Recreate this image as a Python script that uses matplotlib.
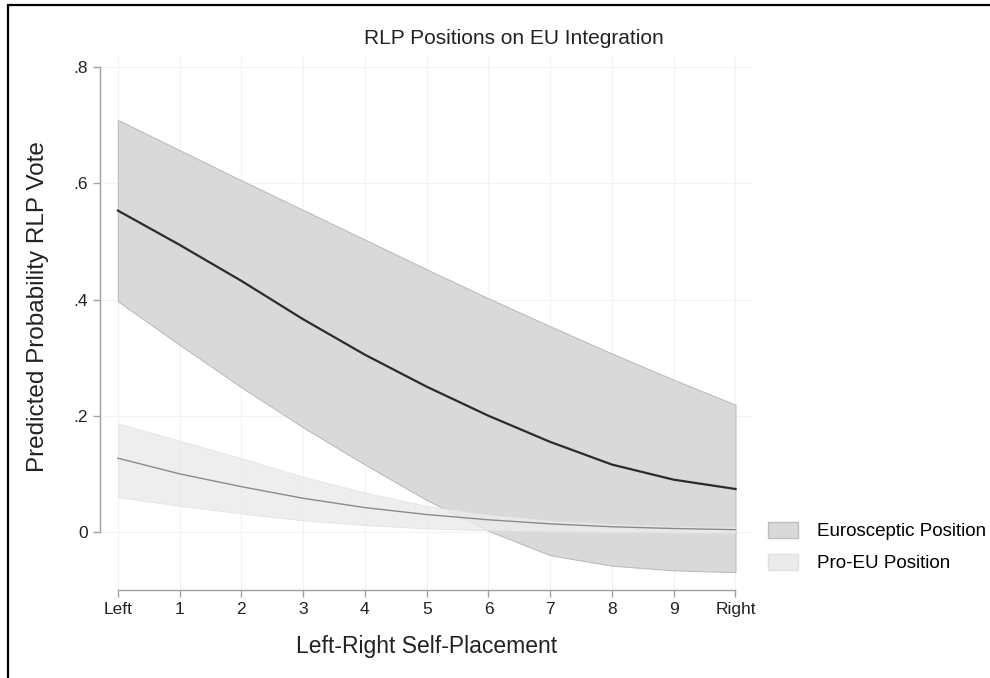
import numpy as np
import matplotlib.pyplot as plt
from matplotlib.patches import Patch, Rectangle

plt.rcParams['font.family'] = ['Liberation Sans', 'DejaVu Sans']

# left-right self placement, 0 = Left ... 10 = Right
lr = [0, 1, 2, 3, 4, 5, 6, 7, 8, 9, 10]
lr_labels = ['Left', '1', '2', '3', '4', '5', '6', '7', '8', '9', 'Right']

# eurosceptic RLP position
euro_mean = [0.553, 0.494, 0.432, 0.366, 0.305, 0.250, 0.200, 0.155, 0.116, 0.090, 0.074]
euro_hi = [0.709, 0.657, 0.605, 0.554, 0.503, 0.452, 0.402, 0.354, 0.307, 0.262, 0.219]
euro_lo = [0.397, 0.322, 0.249, 0.180, 0.116, 0.055, 0.002, -0.040, -0.058, -0.066, -0.069]

# pro-EU RLP position
pro_mean = [0.127, 0.100, 0.078, 0.058, 0.042, 0.030, 0.021, 0.014, 0.009, 0.006, 0.004]
pro_hi = [0.187, 0.157, 0.127, 0.095, 0.068, 0.045, 0.030, 0.020, 0.014, 0.010, 0.008]
pro_lo = [0.060, 0.045, 0.032, 0.020, 0.012, 0.006, 0.003, 0.001, 0.000, -0.001, -0.001]

yticks = [0, 0.2, 0.4, 0.6, 0.8]
ytick_labels = ['0', '.2', '.4', '.6', '.8']

fig = plt.figure(figsize=(9.9, 6.78), dpi=100)
ax = fig.add_axes([0.101, 0.1298, 0.66, 0.789])

ax.fill_between(lr, euro_lo, euro_hi, color='#d9d9d9', edgecolor='#bdbdbd', lw=0.8, zorder=2)
ax.fill_between(lr, pro_lo, pro_hi, color='#ebebeb', edgecolor='#e0e0e0', lw=0.6, alpha=0.85, zorder=3)
ax.plot(lr, euro_mean, color='#2b2b2b', lw=1.6, zorder=4)
ax.plot(lr, pro_mean, color='#8a8a8a', lw=1.0, zorder=4)

ax.set_xlim(-0.29, 10.29)
ax.set_ylim(-0.0998, 0.8206)
ax.set_xticks(lr)
ax.set_xticklabels(lr_labels)
ax.set_yticks(yticks)
ax.set_yticklabels(ytick_labels)

ax.grid(True, color='#f3f3f3', lw=0.8, zorder=0)
for s in ['top', 'right']:
    ax.spines[s].set_visible(False)
ax.spines['left'].set_bounds(0, 0.8)
ax.spines['bottom'].set_bounds(0, 10)
for s in ['left', 'bottom']:
    ax.spines[s].set_color('#a0a0a0')
    ax.spines[s].set_linewidth(1.0)
ax.tick_params(colors='#a0a0a0', labelcolor='#222222', labelsize=12.5, length=5, width=1.0)

ax.set_xlabel('Left-Right Self-Placement', fontsize=16.5, color='#222222')
ax.set_ylabel('Predicted Probability RLP Vote', fontsize=17.5, color='#222222')
ax.xaxis.set_label_coords(0.5, -0.085)
ax.yaxis.set_label_coords(-0.078, 0.53)

fig.text(514 / 990, 1 - 38 / 678, 'RLP Positions on EU Integration', ha='center', va='center',
         fontsize=15, color='#222222')

handles = [Patch(facecolor='#d9d9d9', edgecolor='#bdbdbd', label='Eurosceptic Position'),
           Patch(facecolor='#ebebeb', edgecolor='#e0e0e0', label='Pro-EU Position')]
fig.legend(handles=handles, loc='center left', bbox_to_anchor=(0.776, 1 - 547 / 678), frameon=False,
           fontsize=13.5, handlelength=1.6, handleheight=1.0, labelspacing=0.7, handletextpad=1.0,
           borderpad=0.0, borderaxespad=0.0)

fig.add_artist(Rectangle((8 / 990, -0.1), 1.2, 1 - 5 / 678 + 0.1, transform=fig.transFigure,
                         fill=False, edgecolor='black', lw=1.6))

fig.savefig('out.png', dpi=100)
